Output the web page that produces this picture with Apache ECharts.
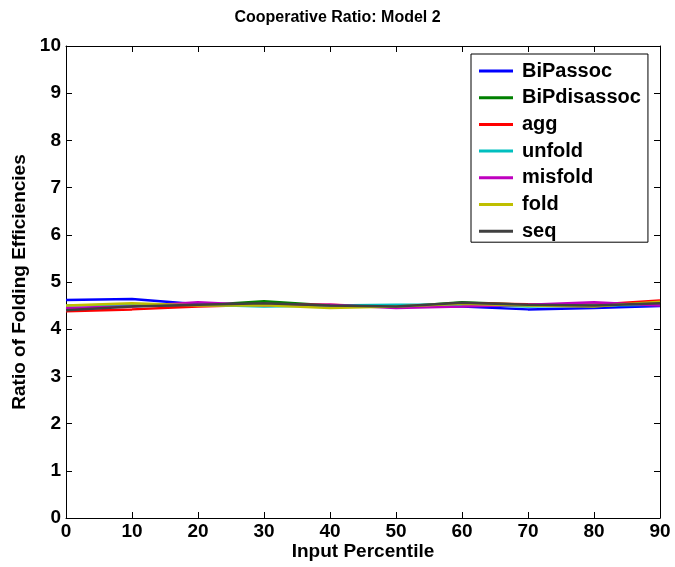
<!DOCTYPE html>
<html>
<head>
<meta charset="utf-8">
<script src="https://cdn.jsdelivr.net/npm/echarts@6/dist/echarts.min.js"></script>
<style>
html,body{margin:0;padding:0;background:#fff;}
#chart{width:675px;height:567px;}
</style>
</head>
<body>
<div id="chart"></div>
<script>
// Input percentiles along the x axis
const percentiles = [0, 10, 20, 30, 40, 50, 60, 70, 80, 90];

// Ratio of folding efficiencies per species
const BiPassoc    = [4.62, 4.64, 4.53, 4.52, 4.50, 4.48, 4.48, 4.42, 4.45, 4.49];
const BiPdisassoc = [4.42, 4.50, 4.50, 4.59, 4.50, 4.47, 4.57, 4.52, 4.52, 4.55];
const agg         = [4.38, 4.42, 4.48, 4.52, 4.52, 4.47, 4.55, 4.53, 4.52, 4.61];
const unfold      = [4.50, 4.52, 4.52, 4.48, 4.50, 4.52, 4.52, 4.48, 4.50, 4.52];
const misfold     = [4.45, 4.48, 4.57, 4.50, 4.52, 4.45, 4.48, 4.52, 4.57, 4.50];
const fold        = [4.50, 4.55, 4.50, 4.51, 4.45, 4.48, 4.54, 4.50, 4.48, 4.58];
const seq         = [4.40, 4.48, 4.52, 4.55, 4.50, 4.48, 4.56, 4.52, 4.50, 4.55];

const yTicks = [0, 1, 2, 3, 4, 5, 6, 7, 8, 9, 10];

const seriesDefs = [
  ['BiPassoc', BiPassoc, '#0000ff'],
  ['BiPdisassoc', BiPdisassoc, '#008000'],
  ['agg', agg, '#ff0000'],
  ['unfold', unfold, '#00bfbf'],
  ['misfold', misfold, '#bf00bf'],
  ['fold', fold, '#bfbf00'],
  ['seq', seq, '#404040']
];

const chart = echarts.init(document.getElementById('chart'), null, {renderer: 'canvas'});
const font = 'Arial, "Liberation Sans", Helvetica, sans-serif';

const axisBase = {
  axisLine: {show: true, onZero: false, lineStyle: {color: '#000', width: 1}},
  axisTick: {show: true, inside: true, length: 6, lineStyle: {color: '#000'}},
  splitLine: {show: false}
};

chart.setOption({
  animation: false,
  backgroundColor: '#fff',
  title: {
    text: 'Cooperative Ratio: Model 2',
    left: 'center',
    top: 5,
    textStyle: {fontFamily: font, fontSize: 16, fontWeight: 'bold', color: '#000'}
  },
  grid: {left: 66, right: 15, top: 46, bottom: 49, containLabel: false, outerBoundsMode: 'none'},
  legend: {
    data: seriesDefs.map(d => d[0]),
    orient: 'vertical',
    left: 471,
    top: 54,
    padding: [7, 7, 1, 8],
    backgroundColor: '#fff',
    borderColor: '#000',
    borderWidth: 1,
    borderRadius: 0,
    icon: 'rect',
    itemWidth: 34,
    itemHeight: 3,
    itemGap: 6.7,
    textStyle: {fontFamily: font, fontSize: 20, fontWeight: 'bold', color: '#000',
      width: 124, padding: [0, 0, 0, 4]}
  },
  xAxis: [
    Object.assign({}, axisBase, {
      type: 'value', min: 0, max: 90, interval: 10, position: 'bottom',
      name: 'Input Percentile', nameLocation: 'middle', nameGap: 24, nameMoveOverlap: false,
      nameTextStyle: {fontFamily: font, fontSize: 19, fontWeight: 'bold', color: '#000'},
      axisLabel: {fontFamily: font, fontSize: 19, fontWeight: 'bold', color: '#000', margin: 4}
    }),
    Object.assign({}, axisBase, {
      type: 'value', min: 0, max: 90, interval: 10, position: 'top',
      axisLabel: {show: false}
    })
  ],
  yAxis: [
    Object.assign({}, axisBase, {
      type: 'value', min: 0, max: 10, interval: 1, position: 'left',
      name: 'Ratio of Folding Efficiencies', nameLocation: 'middle', nameGap: 37, nameMoveOverlap: false,
      nameTextStyle: {fontFamily: font, fontSize: 19, fontWeight: 'bold', color: '#000'},
      axisLabel: {fontFamily: font, fontSize: 19, fontWeight: 'bold', color: '#000', margin: 5,
        formatter: v => (yTicks.indexOf(v) >= 0 ? String(v) : '')}
    }),
    Object.assign({}, axisBase, {
      type: 'value', min: 0, max: 10, interval: 1, position: 'right',
      axisLabel: {show: false}
    })
  ],
  series: seriesDefs.map(([name, vals, color]) => ({
    name: name,
    type: 'line',
    xAxisIndex: 0,
    yAxisIndex: 0,
    symbol: 'none',
    data: percentiles.map((p, i) => [p, vals[i]]),
    lineStyle: {color: color, width: 2.5},
    itemStyle: {color: color}
  }))
});
</script>
</body>
</html>
